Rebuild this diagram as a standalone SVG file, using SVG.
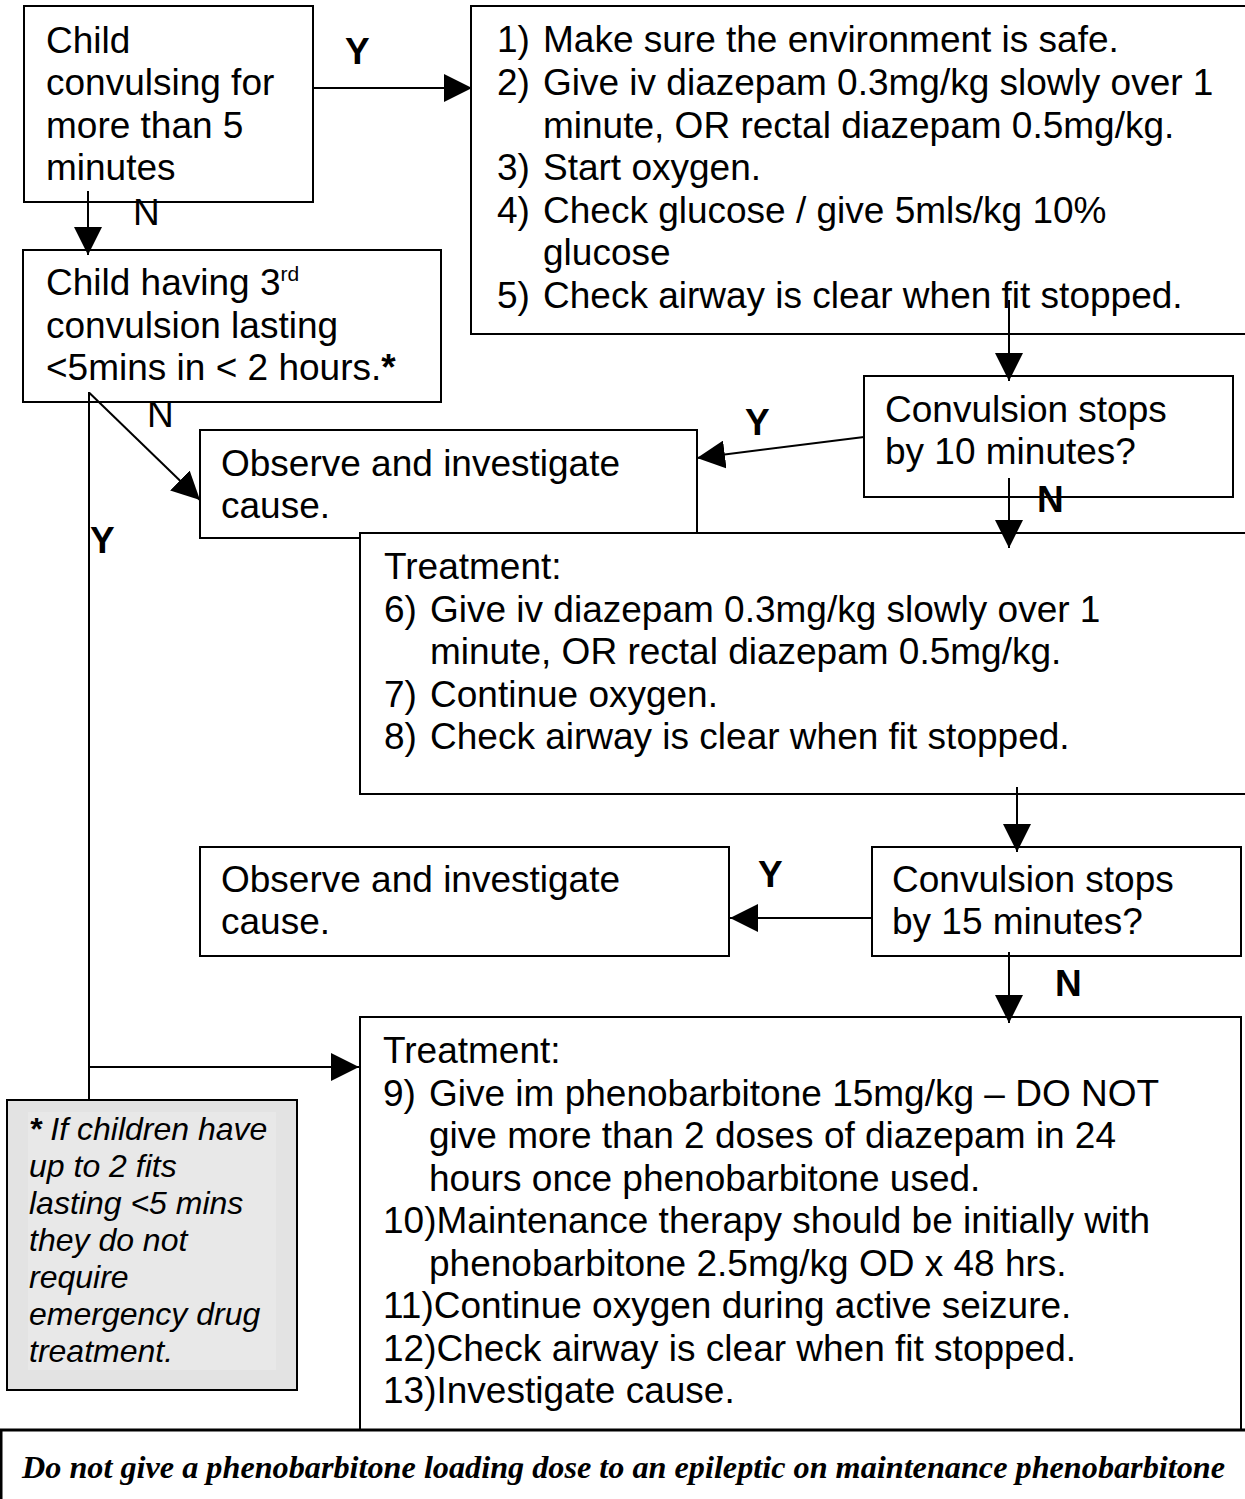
<svg xmlns="http://www.w3.org/2000/svg" width="1245" height="1499" viewBox="0 0 1245 1499">
  <defs>
    <marker id="arrow" markerUnits="userSpaceOnUse" markerWidth="28" markerHeight="28" refX="28" refY="14" orient="auto">
      <path d="M0,0 L28,14 L0,28 Z" fill="#000"/>
    </marker>
    <style>
      .box { fill: #fff; stroke: #000; stroke-width: 2; }
      .t { font-family: "Liberation Sans", Arial, sans-serif; font-size: 37px; fill: #000; }
      .lbl { font-family: "Liberation Sans", Arial, sans-serif; font-size: 37px; fill: #000; }
      .b { font-weight: bold; }
      .note { font-family: "Liberation Sans", Arial, sans-serif; font-size: 32px; font-style: italic; fill: #000; }
      .foot { font-family: "Liberation Serif", "Times New Roman", serif; font-size: 31px; font-style: italic; font-weight: bold; fill: #000; }
      .con { fill: none; stroke: #000; stroke-width: 2; }
    </style>
  </defs>
  <rect width="1245" height="1499" fill="#fff"/>

  <!-- Start: prolonged convulsion -->
  <g id="node-prolonged">
    <rect class="box" x="24" y="6" width="289" height="196"/>
    <text class="t" x="46" y="52.5">Child</text>
    <text class="t" x="46" y="95">convulsing for</text>
    <text class="t" x="46" y="137.5">more than 5</text>
    <text class="t" x="46" y="180">minutes</text>
  </g>

  <!-- First-line management -->
  <g id="node-first-line">
    <rect class="box" x="471" y="6" width="790" height="328"/>
    <text class="t" x="497" y="52.3">1)</text><text class="t" x="543" y="52.3">Make sure the environment is safe.</text>
    <text class="t" x="497" y="94.9">2)</text><text class="t" x="543" y="94.9">Give iv diazepam 0.3mg/kg slowly over 1</text>
    <text class="t" x="543" y="137.5">minute, OR rectal diazepam 0.5mg/kg.</text>
    <text class="t" x="497" y="180.1">3)</text><text class="t" x="543" y="180.1">Start oxygen.</text>
    <text class="t" x="497" y="222.7">4)</text><text class="t" x="543" y="222.7">Check glucose / give 5mls/kg 10%</text>
    <text class="t" x="543" y="265.3">glucose</text>
    <text class="t" x="497" y="307.9">5)</text><text class="t" x="543" y="307.9">Check airway is clear when fit stopped.</text>
  </g>

  <!-- Repeated short convulsions -->
  <g id="node-third-convulsion">
    <rect class="box" x="23" y="250" width="418" height="152"/>
    <text class="t" x="46" y="295">Child having 3<tspan font-size="21" dy="-14">rd</tspan></text>
    <text class="t" x="46" y="338">convulsion lasting</text>
    <text class="t" x="46" y="380">&lt;5mins in &lt; 2 hours.<tspan class="b">*</tspan></text>
  </g>

  <!-- Observe (after 10 minutes) -->
  <g id="node-observe-1">
    <rect class="box" x="200" y="430" width="497" height="108"/>
    <text class="t" x="221" y="476">Observe and investigate</text>
    <text class="t" x="221" y="518">cause.</text>
  </g>

  <!-- Decision at 10 minutes -->
  <g id="node-check-10">
    <rect class="box" x="864" y="376" width="369" height="121"/>
    <text class="t" x="885" y="422">Convulsion stops</text>
    <text class="t" x="885" y="464">by 10 minutes?</text>
  </g>

  <!-- Second dose -->
  <g id="node-second-dose">
    <rect class="box" x="360" y="533" width="900" height="261"/>
    <text class="t" x="384" y="579">Treatment:</text>
    <text class="t" x="384" y="621.5">6)</text><text class="t" x="430" y="621.5">Give iv diazepam 0.3mg/kg slowly over 1</text>
    <text class="t" x="430" y="664">minute, OR rectal diazepam 0.5mg/kg.</text>
    <text class="t" x="384" y="706.5">7)</text><text class="t" x="430" y="706.5">Continue oxygen.</text>
    <text class="t" x="384" y="749">8)</text><text class="t" x="430" y="749">Check airway is clear when fit stopped.</text>
  </g>

  <!-- Decision at 15 minutes -->
  <g id="node-check-15">
    <rect class="box" x="872" y="847" width="369" height="109"/>
    <text class="t" x="892" y="892">Convulsion stops</text>
    <text class="t" x="892" y="934">by 15 minutes?</text>
  </g>

  <!-- Observe (after 15 minutes) -->
  <g id="node-observe-2">
    <rect class="box" x="200" y="847" width="529" height="109"/>
    <text class="t" x="221" y="892">Observe and investigate</text>
    <text class="t" x="221" y="934">cause.</text>
  </g>

  <!-- Phenobarbitone -->
  <g id="node-phenobarbitone">
    <rect class="box" x="360" y="1017" width="881" height="430"/>
    <text class="t" x="383" y="1063">Treatment:</text>
    <text class="t" x="383" y="1105.5">9)</text><text class="t" x="429" y="1105.5">Give im phenobarbitone 15mg/kg – DO NOT</text>
    <text class="t" x="429" y="1148">give more than 2 doses of diazepam in 24</text>
    <text class="t" x="429" y="1190.5">hours once phenobarbitone used.</text>
    <text class="t" x="383" y="1233">10)Maintenance therapy should be initially with</text>
    <text class="t" x="429" y="1275.5">phenobarbitone 2.5mg/kg OD x 48 hrs.</text>
    <text class="t" x="383" y="1318">11)Continue oxygen during active seizure.</text>
    <text class="t" x="383" y="1360.5">12)Check airway is clear when fit stopped.</text>
    <text class="t" x="383" y="1403">13)Investigate cause.</text>
  </g>

  <!-- Footnote for the asterisk -->
  <g id="node-footnote">
    <rect x="7" y="1100" width="290" height="290" fill="#e3e3e3" stroke="#000" stroke-width="2"/>
    <rect x="28" y="1112" width="248" height="258" fill="#e8e8e8"/>
    <text class="note" x="29" y="1140"><tspan font-weight="bold">*</tspan> If children have</text>
    <text class="note" x="29" y="1177">up to 2 fits</text>
    <text class="note" x="29" y="1214">lasting &lt;5 mins</text>
    <text class="note" x="29" y="1251">they do not</text>
    <text class="note" x="29" y="1288">require</text>
    <text class="note" x="29" y="1325">emergency drug</text>
    <text class="note" x="29" y="1362">treatment.</text>
  </g>

  <!-- Warning banner -->
  <g id="node-warning">
    <rect x="1" y="1430" width="1260" height="90" fill="#fff" stroke="#000" stroke-width="3"/>
    <text class="foot" x="22" y="1478" textLength="1203" lengthAdjust="spacingAndGlyphs">Do not give a phenobarbitone loading dose to an epileptic on maintenance phenobarbitone</text>
  </g>

  <!-- Connectors -->
  <g id="connectors">
    <path class="con" d="M313,88 H472" marker-end="url(#arrow)"/>
    <path class="con" d="M88,191 V255" marker-end="url(#arrow)"/>
    <path class="con" d="M89,392 V1100" stroke-width="1.6"/>
    <path class="con" d="M89.5,393 L200,500" stroke-width="1.3" marker-end="url(#arrow)"/>
    <path class="con" d="M89,1067 H359" stroke-width="2.5" marker-end="url(#arrow)"/>
    <path class="con" d="M1009,300 V381" marker-end="url(#arrow)"/>
    <path class="con" d="M864,437 L697,458" marker-end="url(#arrow)"/>
    <path class="con" d="M1009,478 V548" marker-end="url(#arrow)"/>
    <path class="con" d="M1017,787 V852" marker-end="url(#arrow)"/>
    <path class="con" d="M872,918 H730" marker-end="url(#arrow)"/>
    <path class="con" d="M1009,952 V1023" marker-end="url(#arrow)"/>

    <text class="lbl b" x="345" y="64">Y</text>
    <text class="lbl" x="133" y="225">N</text>
    <text class="lbl" x="147" y="427">N</text>
    <text class="lbl b" x="90" y="553">Y</text>
    <text class="lbl b" x="745" y="435">Y</text>
    <text class="lbl b" x="1037" y="512">N</text>
    <text class="lbl b" x="758" y="887">Y</text>
    <text class="lbl b" x="1055" y="996">N</text>
  </g>
</svg>
